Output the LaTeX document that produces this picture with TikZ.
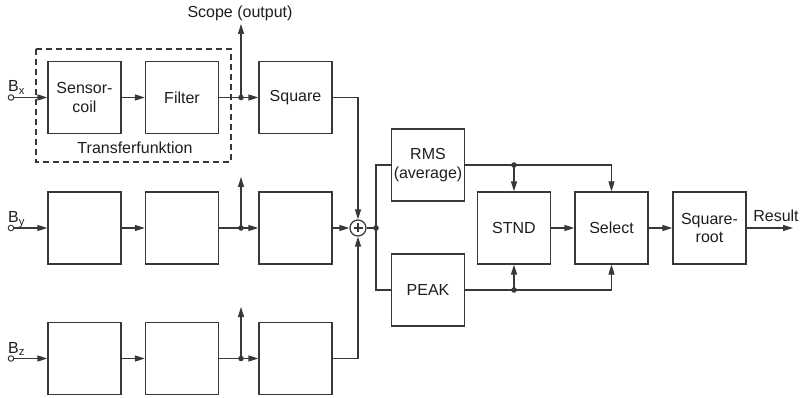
\documentclass[tikz,border=0pt]{standalone}
\usepackage{fontspec}
\setmainfont{Liberation Sans}
\usetikzlibrary{arrows.meta}
\definecolor{ln}{HTML}{383838}
\definecolor{tx}{HTML}{1E1E1E}
\begin{document}
\begin{tikzpicture}[x=1pt,y=-1pt,
  every node/.style={font=\fontsize{16}{18.5}\selectfont, text=tx},
  blk/.style={draw=ln, line width=1.25pt, minimum width=73pt, minimum height=72pt, inner sep=0pt, align=center},
  con/.style={draw=ln, line width=1.25pt},
  arr/.style={con, -{Triangle[length=10pt,width=6pt]}},
  jdot/.style={circle, fill=ln, inner sep=0pt, minimum size=5.6pt},
  inp/.style={circle, draw=ln, line width=1pt, fill=white, inner sep=0pt, minimum size=5.5pt},
  lbl/.style={inner sep=0pt},
  sumnode/.style={circle, draw=ln, line width=1.25pt, minimum size=16pt, inner sep=0pt,
    path picture={\draw[ln, line width=1.1pt] ([xshift=-4.5pt]path picture bounding box.center) -- ([xshift=4.5pt]path picture bounding box.center)
      ([yshift=-4.5pt]path picture bounding box.center) -- ([yshift=4.5pt]path picture bounding box.center);}}]
\useasboundingbox (0,0) rectangle (806,398);
% dashed frame
\draw[ln, line width=1.25pt, dash pattern=on 6pt off 4pt] (36,49) rectangle (231,162);
\node[lbl] (tf) at (135,148) {Transferfunktion};
% row x
\node[blk] (s1) at (84.5,97.5) {Sensor-\\coil};
\node[blk] (f1) at (182,97.5) {Filter};
\node[blk] (q1) at (295.5,97.5) {Square};
% row y
\node[blk] (s2) at (84.5,228) {};
\node[blk] (f2) at (182,228) {};
\node[blk] (q2) at (295.5,228) {};
% row z
\node[blk] (s3) at (84.5,358.5) {};
\node[blk] (f3) at (182,358.5) {};
\node[blk] (q3) at (295.5,358.5) {};
% input labels
\node[lbl, anchor=base west] (bx) at (8,92) {B\textsubscript{x}};
\node[lbl, anchor=base west] (by) at (8,222.5) {B\textsubscript{y}};
\node[lbl, anchor=base west] (bz) at (8,353) {B\textsubscript{z}};
% junction positions
\coordinate (c1) at (241,97.5);
\coordinate (c2) at (241,228);
\coordinate (c3) at (241,358.5);
\coordinate (cs) at (376,228);
\coordinate (cr) at (514,165);
\coordinate (cp) at (514,290);
\coordinate (t1) at (241,24);
\coordinate (t2) at (241,177);
\coordinate (t3) at (241,307);
\node[lbl] (scope) at (240,13) {Scope (output)};
% sum
\node[sumnode] (sum) at (358,228) {};
% right part
\node[blk] (rms) at (428,165) {RMS\\(average)};
\node[blk] (peak) at (428,290) {PEAK};
\node[blk] (stnd) at (514,228) {STND};
\node[blk] (sel) at (611.5,228) {Select};
\node[blk] (sqr) at (709.5,228) {Square-\\root};
\coordinate (res) at (793,228);
\node[lbl] (reslbl) at (776,216) {Result};
% connectors
\foreach \i in {1,2,3}{
  \draw[arr] (11,0|-c\i) -- (s\i);
  \draw[arr] (s\i) -- (f\i);
  \draw[con] (f\i) -- (c\i);
  \draw[arr] (c\i) -- (q\i);
  \draw[arr] (c\i) -- (t\i);
}
\draw[arr] (q1.east) -| (sum.north);
\draw[arr] (q2.east) -- (sum.west);
\draw[arr] (q3.east) -| (sum.south);
\draw[con] (sum.east) -- (cs);
\draw[con] (cs) |- (rms.west);
\draw[con] (cs) |- (peak.west);
\draw[arr] (rms.east) -| (sel.north);
\draw[arr] (cr) -- (stnd.north);
\draw[arr] (peak.east) -| (sel.south);
\draw[arr] (cp) -- (stnd.south);
\draw[arr] (stnd) -- (sel);
\draw[arr] (sel) -- (sqr);
\draw[arr] (sqr.east) -- (res);
% inputs and dots on top
\node[inp] (i1) at (11,97.5) {};
\node[inp] (i2) at (11,228) {};
\node[inp] (i3) at (11,358.5) {};
\node[jdot] (j1) at (c1) {};
\node[jdot] (j2) at (c2) {};
\node[jdot] (j3) at (c3) {};
\node[jdot] (js) at (cs) {};
\node[jdot] (jr) at (cr) {};
\node[jdot] (jp) at (cp) {};
\end{tikzpicture}
\end{document}
